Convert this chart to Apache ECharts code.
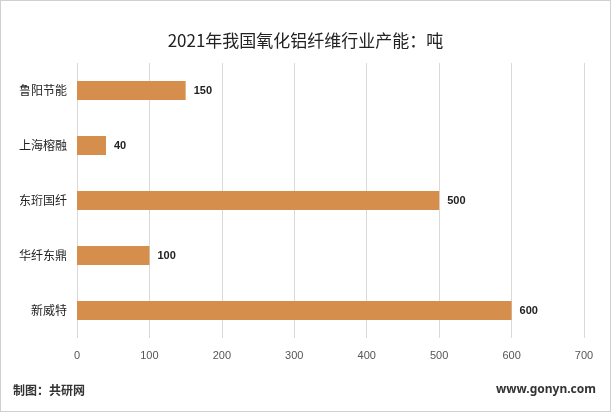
<!DOCTYPE html>
<html><head><meta charset="utf-8">
<script src="https://cdn.jsdelivr.net/npm/echarts@6/dist/echarts.min.js"></script>
<style>html,body{margin:0;padding:0;background:#fff}#c{width:611px;height:412px;box-sizing:border-box;border:1px solid #d0d0d0}</style>
</head><body><div id="c"></div>
<script>
const categories = ['鲁阳节能','上海榕融','东珩国纤','华纤东鼎','新威特'];
const values = [150, 40, 500, 100, 600];
const chart = echarts.init(document.getElementById('c'));
chart.setOption({
  animation:false,
  title:{text:'2021年我国氧化铝纤维行业产能：吨',left:'center',top:26,textStyle:{fontSize:17,fontWeight:'normal',color:'#222',fontFamily:'Noto Sans CJK SC'}},
  grid:{left:76,right:26,top:62,bottom:73},
  xAxis:{type:'value',min:0,max:700,interval:100,axisLabel:{color:'#555',fontSize:11,margin:12},
    splitLine:{lineStyle:{color:'#d9d9d9'}},axisLine:{show:false},axisTick:{show:false}},
  yAxis:{type:'category',inverse:true,data:categories,axisLabel:{color:'#222',fontSize:12,margin:10,fontFamily:'Noto Sans CJK SC'},
    axisLine:{show:false},axisTick:{show:false}},
  series:[{type:'bar',data:values,barWidth:19,itemStyle:{color:'#d58e4c'},
    label:{show:true,position:'right',color:'#222',fontWeight:'bold',fontSize:11,distance:8}}],
  graphic:[
    {type:'text',left:12,top:383,style:{text:'制图：共研网',font:'bold 12px "Noto Sans CJK SC"',fill:'#333'}},
    {type:'text',right:14,top:383,style:{text:'www.gonyn.com',font:'bold 12px "Noto Sans"',fill:'#333'}}
  ]
});
</script></body></html>
